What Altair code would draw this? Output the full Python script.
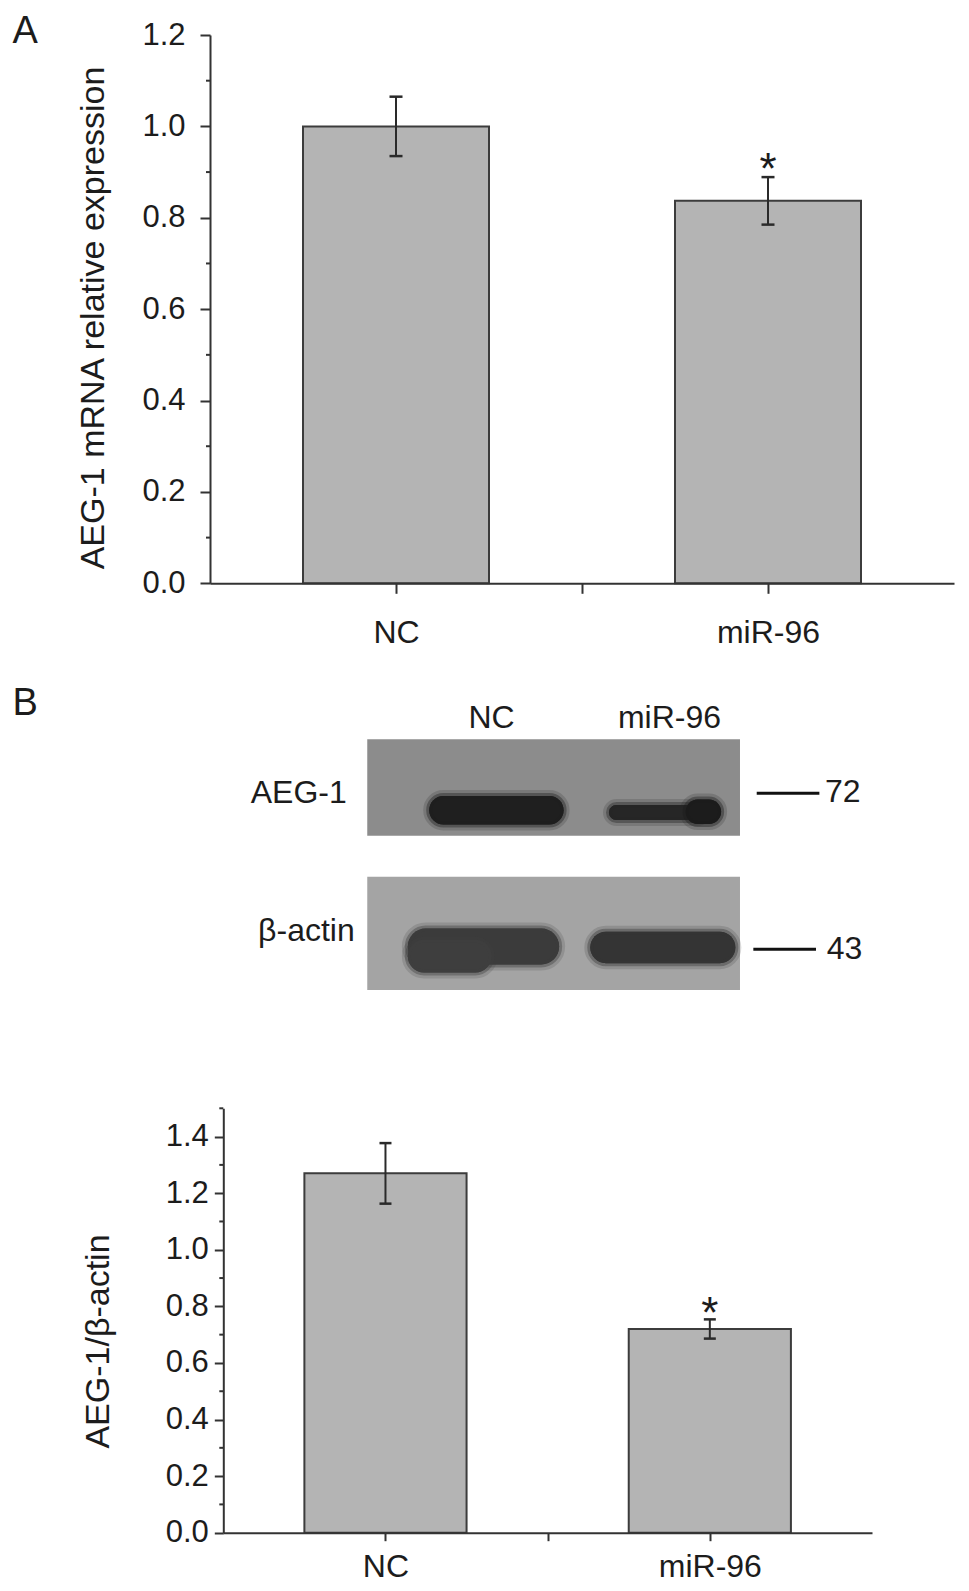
import altair as alt
import pandas as pd

# ---------------- data ----------------
# Panel A: qPCR
a_categories = ["NC", "miR-96"]
a_values = [1.00, 0.837]
a_errors = [0.065, 0.052]
a_sig = ["", "*"]
a_ticks = [0.0, 0.2, 0.4, 0.6, 0.8, 1.0, 1.2]
a_minor = [0.1, 0.3, 0.5, 0.7, 0.9, 1.1]
a_title = "AEG-1 mRNA relative expression"

# Panel B: densitometry
b_categories = ["NC", "miR-96"]
b_values = [1.27, 0.72]
b_errors = [0.107, 0.034]
b_sig = ["", "*"]
b_ticks = [0.0, 0.2, 0.4, 0.6, 0.8, 1.0, 1.2, 1.4]
b_minor = [0.1, 0.3, 0.5, 0.7, 0.9, 1.1, 1.3, 1.5]
b_title = "AEG-1/\u03b2-actin"

# Panel B: western blot (lane index, band extents in lane units / strip fraction)
blot_lanes = ["NC", "miR-96"]
blot_rows = ["AEG-1", "\u03b2-actin"]
blot_markers = ["72", "43"]
band_row = ["AEG-1", "AEG-1", "AEG-1", "\u03b2-actin", "\u03b2-actin", "\u03b2-actin"]
band_lane = ["NC", "miR-96", "miR-96", "NC", "NC", "miR-96"]
band_x0 = [-0.350, 0.660, 1.090, -0.470, -0.470, 0.555]
band_x1 = [0.405, 1.200, 1.290, 0.380, 0.000, 1.370]
band_y0 = [0.226, 0.262, 0.240, 0.755, 0.800, 0.768]
band_y1 = [0.340, 0.322, 0.338, 0.898, 0.930, 0.893]
band_shade = ["#1f1f1f", "#262626", "#1c1c1c", "#3b3b3b", "#3e3e3e", "#343434"]

# ---------------- style / layout ----------------
FONT = "Liberation Sans, Arial, Helvetica, sans-serif"
INK = "#1c1c1c"
AXIS = "#333333"
BAR_FILL = "#b4b4b4"
BAR_EDGE = "#3c3c3c"
W, H = 950, 1575

LAYOUT_A = dict(x_range=[202, 946], y_range=[575.3, 27.0], ymax=1.2,
                y_tick=10, y_pad=15, x_tick=10, x_pad=24,
                title_x=95, title_y=309.5, star_dy=7, cap=6.5,
                letter="A", letter_xy=(4.5, 35))
LAYOUT_B = dict(x_range=[215.3, 864], y_range=[1524.7, 1100.3], ymax=1.5,
                y_tick=9, y_pad=6, x_tick=8, x_pad=11,
                title_x=100, title_y=1333, star_dy=9, cap=6.0,
                letter=None, letter_xy=None)


def bar_panel(cats, vals, errs, sig, ticks, minor, title, L):
    pos = [1 + 2 * i for i in range(len(cats))]
    df = pd.DataFrame({
        "cat": cats, "pos": pos,
        "x0": [p - 0.5 for p in pos], "x1": [p + 0.5 for p in pos],
        "value": vals, "zero": [0.0] * len(cats),
        "lo": [v - e for v, e in zip(vals, errs)],
        "hi": [v + e for v, e in zip(vals, errs)],
        "sig": sig,
    })
    label_expr = " : ".join(f"datum.value == {p} ? '{c}'" for p, c in zip(pos, cats)) + " : ''"
    tick_vals = sorted(pos + [p + 1 for p in pos[:-1]])
    xs = alt.Scale(domain=[0, 2 * len(cats)], range=L["x_range"], nice=False, zero=False)
    ys = alt.Scale(domain=[0, L["ymax"]], range=L["y_range"], nice=False)
    x_axis = alt.Axis(orient="bottom", offset=L["y_range"][0] - H, values=tick_vals,
                      labelExpr=label_expr, tickSize=L["x_tick"], labelPadding=L["x_pad"],
                      labelFontSize=32, labelFont=FONT, labelColor=INK, labelAngle=0,
                      labelOverlap=False, labelFlush=False,
                      domainColor=AXIS, domainWidth=2, tickColor=AXIS, tickWidth=2,
                      grid=False, title=None, zindex=1)
    y_axis = alt.Axis(orient="left", offset=-L["x_range"][0], values=ticks, format=".1f",
                      tickSize=L["y_tick"], labelPadding=L["y_pad"], labelFontSize=31,
                      labelFont=FONT, labelColor=INK, labelOverlap=False,
                      domainColor=AXIS, domainWidth=2, tickColor=AXIS, tickWidth=2,
                      grid=False, title=title, titleFont=FONT, titleFontSize=34,
                      titleFontWeight="normal", titleColor=INK, titleAngle=270,
                      titleAlign="center", titleBaseline="alphabetic",
                      titleX=L["title_x"] - L["x_range"][0], titleY=L["title_y"], zindex=1)
    base = alt.Chart(df)
    bars = base.mark_rect(fill=BAR_FILL, stroke=BAR_EDGE, strokeWidth=2).encode(
        x=alt.X("x0:Q", scale=xs, axis=x_axis),
        x2="x1:Q",
        y=alt.Y("value:Q", scale=ys, axis=y_axis),
        y2="zero:Q",
    )
    err = base.mark_rule(color="#2a2a2a", strokeWidth=2).encode(x="pos:Q", y="lo:Q", y2="hi:Q")
    cap_hi = base.mark_rule(color="#2a2a2a", strokeWidth=2.5, xOffset=-L["cap"], x2Offset=L["cap"]).encode(
        x="pos:Q", x2="pos:Q", y="hi:Q")
    cap_lo = base.mark_rule(color="#2a2a2a", strokeWidth=2.5, xOffset=-L["cap"], x2Offset=L["cap"]).encode(
        x="pos:Q", x2="pos:Q", y="lo:Q")
    star = base.mark_text(font=FONT, fontSize=44, color=INK, baseline="alphabetic",
                          dy=L["star_dy"]).encode(x="pos:Q", y="hi:Q", text="sig:N")
    minor_df = pd.DataFrame({"v": minor})
    minor_ticks = alt.Chart(minor_df).mark_rule(color=AXIS, strokeWidth=2, x2Offset=-4).encode(
        y="v:Q", x=alt.datum(0), x2=alt.datum(0))
    layers = [bars, err, cap_hi, cap_lo, star, minor_ticks]
    if L["letter"]:
        lx, ly = L["letter_xy"]
        letter = alt.Chart(pd.DataFrame({"t": [L["letter"]]})).mark_text(
            font=FONT, fontSize=38, color=INK, align="left", baseline="alphabetic").encode(
            text="t:N", x=alt.value(lx), y=alt.value(ly))
        layers.append(letter)
    return alt.layer(*layers)


def blot_panel():
    xs = alt.Scale(domain=[0, 1], range=[483.5, 661.5], nice=False, zero=False)
    ys = alt.Scale(domain=[0, 1], range=[731.3, 982.0], nice=False, zero=False)
    strips = pd.DataFrame({"row": blot_rows, "x0": [-0.698, -0.698], "x1": [1.396, 1.396],
                           "y0": [0.0, 0.548], "y1": [0.3845, 1.0],
                           "shade": ["#8c8c8c", "#a4a4a4"]})
    strip_marks = alt.Chart(strips).mark_rect().encode(
        x=alt.X("x0:Q", scale=xs, axis=None), x2="x1:Q",
        y=alt.Y("y0:Q", scale=ys, axis=None), y2="y1:Q",
        fill=alt.Fill("shade:N", scale=None))
    bands = pd.DataFrame({"row": band_row, "lane": band_lane, "x0": band_x0, "x1": band_x1,
                          "y0": band_y0, "y1": band_y1, "shade": band_shade})
    band_enc = dict(x="x0:Q", x2="x1:Q", y="y0:Q", y2="y1:Q",
                    fill=alt.Fill("shade:N", scale=None), stroke=alt.Stroke("shade:N", scale=None))
    halo_outer = alt.Chart(bands).mark_rect(cornerRadius=18, strokeWidth=12, strokeOpacity=0.18,
                                            strokeJoin="round").encode(**band_enc)
    halo_inner = alt.Chart(bands).mark_rect(cornerRadius=18, strokeWidth=6, strokeOpacity=0.4,
                                            strokeJoin="round").encode(**band_enc)
    lanes = pd.DataFrame({"lane": blot_lanes, "idx": list(range(len(blot_lanes))), "yy": [-0.0451] * 2})
    lane_labels = alt.Chart(lanes).mark_text(font=FONT, fontSize=32, color=INK,
                                             baseline="alphabetic").encode(
        x="idx:Q", y="yy:Q", text="lane:N")
    row1 = alt.Chart(pd.DataFrame({"t": [blot_rows[0]], "x": [-0.698], "y": [0.253]})).mark_text(
        font=FONT, fontSize=32, color=INK, align="right", baseline="alphabetic", dx=-20.5).encode(
        x="x:Q", y="y:Q", text="t:N")
    row2 = alt.Chart(pd.DataFrame({"t": [blot_rows[1]], "x": [-0.698], "y": [0.803]})).mark_text(
        font=FONT, fontSize=32, color=INK, align="right", baseline="alphabetic", dx=-12.5).encode(
        x="x:Q", y="y:Q", text="t:N")
    mk = pd.DataFrame({"m": blot_markers, "x0": [1.490, 1.471], "x1": [1.842, 1.823],
                       "y": [0.2154, 0.8377], "tx": [1.8736, 1.8831], "ty": [0.2513, 0.8776]})
    mk_lines = alt.Chart(mk).mark_rule(color="#111111", strokeWidth=3).encode(
        x="x0:Q", x2="x1:Q", y="y:Q")
    mk_text = alt.Chart(mk).mark_text(font=FONT, fontSize=32, color=INK, align="left",
                                      baseline="alphabetic").encode(x="tx:Q", y="ty:Q", text="m:N")
    letter = alt.Chart(pd.DataFrame({"t": ["B"]})).mark_text(
        font=FONT, fontSize=38, color=INK, align="left", baseline="alphabetic").encode(
        text="t:N", x=alt.value(4.5), y=alt.value(707))
    return alt.layer(strip_marks, halo_outer, halo_inner, lane_labels, row1, row2,
                     mk_lines, mk_text, letter)


panel_a = bar_panel(a_categories, a_values, a_errors, a_sig, a_ticks, a_minor, a_title, LAYOUT_A)
panel_blot = blot_panel()
panel_b = bar_panel(b_categories, b_values, b_errors, b_sig, b_ticks, b_minor, b_title, LAYOUT_B)

chart = alt.layer(panel_a, panel_blot, panel_b).resolve_scale(
    x="independent", y="independent"
).properties(
    width=W, height=H, padding=0, background="white",
    autosize=alt.AutoSizeParams(type="none"),
).configure_view(stroke=None)

chart.save("out.html", embed_options={"renderer": "svg", "actions": False})
